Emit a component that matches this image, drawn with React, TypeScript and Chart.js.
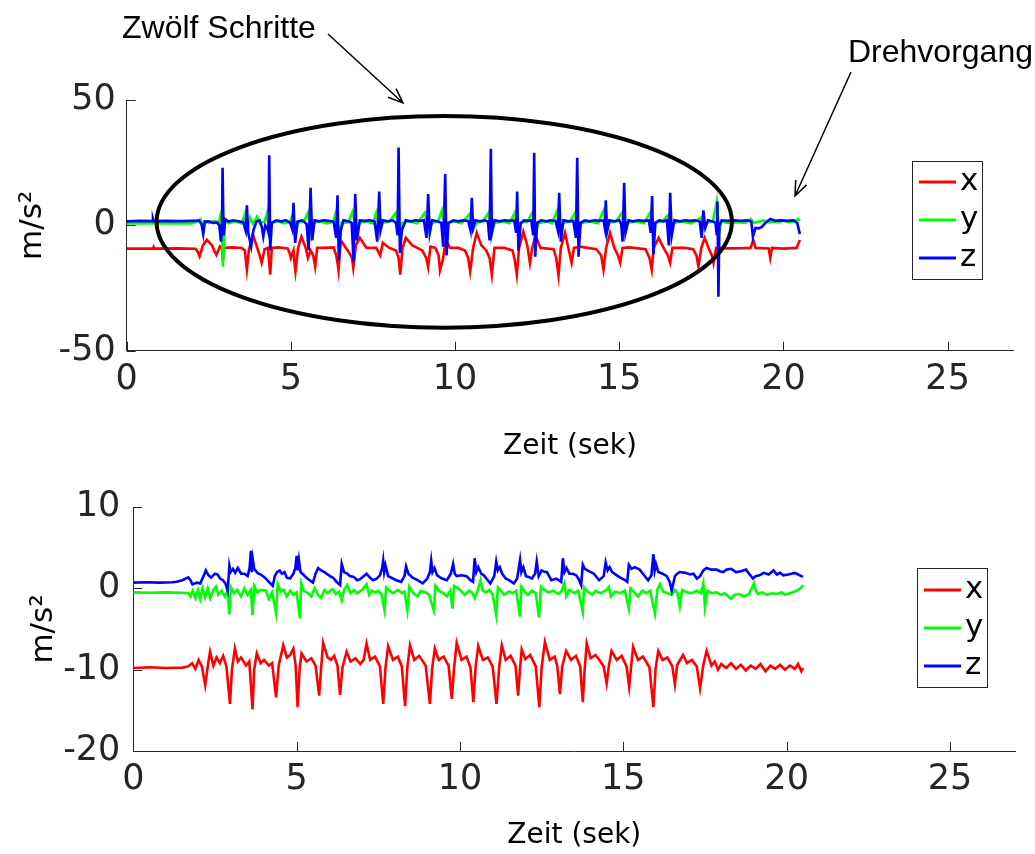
import React, { useEffect, useRef } from 'react';
import { Chart, registerables } from 'chart.js';

Chart.register(...registerables);

// ---------- data ----------
const xTicks = [0, 5, 10, 15, 20, 25];
const topYTicks = [-50, 0, 50];
const bottomYTicks = [-20, -10, 0, 10];
const seriesNames = ['x', 'y', 'z'];
const seriesColors = ['#ff0000', '#00ff00', '#0000ff'];
const xAxisTitle = 'Zeit (sek)';
const yAxisTitle = 'm/s²';
const annotationLabels = ['Zwölf Schritte', 'Drehvorgang'];

// top plot: raw acceleration [time (s), value (m/s²)]
const topX: number[][] = [
  [0, -9.3], [0.8, -9.2], [0.82, -8.6], [0.84, -9.3], [1.6, -9.2], [2.1, -9.3], [2.16, -10.5], [2.22, -12.4], [2.32, -8], [2.44, -5.8],
  [2.6, -8], [2.68, -10.5], [2.73, -11.8], [2.84, -8.4], [2.9, -9], [2.93, -14], [2.97, -9], [3.2, -8.8], [3.5, -9], [3.6, -10],
  [3.63, -14], [3.66, -17.7], [3.72, -10], [3.84, -3.5], [3.95, -8], [4.05, -12], [4.11, -15], [4.2, -9.5], [4.3, -9], [4.34, -15],
  [4.37, -19.7], [4.42, -9], [4.6, -8.8], [4.9, -9.2], [4.96, -11], [5.0, -13], [5.08, -10], [5.11, -15], [5.14, -18.4], [5.22, -9],
  [5.32, -4.5], [5.45, -9], [5.52, -13], [5.6, -10], [5.68, -12], [5.74, -16.5], [5.8, -9], [6.0, -9], [6.3, -8.8], [6.38, -12],
  [6.42, -15], [6.45, -18], [6.52, -6], [6.65, -8.5], [6.78, -11], [6.86, -13], [6.9, -17], [6.98, -8], [7.1, -5], [7.3, -9],
  [7.6, -9], [7.72, -12], [7.8, -7], [8.0, -9], [8.2, -10], [8.28, -13], [8.33, -19.7], [8.4, -9], [8.5, -5], [8.7, -8],
  [9.0, -10], [9.12, -13], [9.18, -16.7], [9.25, -8.5], [9.4, -9], [9.5, -12], [9.54, -18], [9.63, -13.6], [9.72, -6], [9.85, -9],
  [10.1, -9], [10.3, -10], [10.4, -13], [10.46, -18.4], [10.55, -9], [10.66, -3], [10.8, -8], [10.95, -10], [11.05, -13], [11.12, -19.7],
  [11.2, -9], [11.5, -9], [11.75, -10], [11.82, -14], [11.88, -19.7], [11.95, -9], [12.08, -2.5], [12.2, -8], [12.28, -15], [12.35, -9],
  [12.45, -4], [12.6, -9], [13.0, -9.5], [13.08, -13], [13.15, -20], [13.22, -9], [13.35, -3], [13.45, -9], [13.55, -15], [13.62, -9],
  [13.8, -8.5], [14.3, -9.5], [14.45, -12], [14.52, -17.7], [14.6, -9], [14.72, -3], [14.85, -9], [14.96, -12], [15.03, -15], [15.1, -9],
  [15.3, -8.8], [15.8, -9.5], [15.92, -13], [15.99, -17.7], [16.05, -9], [16.2, -5], [16.35, -9], [16.48, -12], [16.55, -15], [16.62, -9],
  [17.0, -9], [17.25, -9.5], [17.35, -12], [17.41, -16.4], [17.5, -9], [17.6, -5], [17.72, -9], [17.82, -12], [17.87, -15], [17.95, -9],
  [18.3, -9.2], [18.8, -9.1], [19.0, -9], [19.08, -5.8], [19.15, -9], [19.55, -9.2], [19.6, -13], [19.65, -9], [20.0, -9.3], [20.4, -9],
  [20.5, -5.8],
];

const topY: number[][] = [
  [0, 0.8], [0.5, 0.9], [1.0, 0.8], [1.5, 0.9], [2.0, 0.8], [2.25, 2.5], [2.3, -0.5], [2.36, 1.5], [2.5, 1.0], [2.65, 1.8],
  [2.8, 1.0], [2.86, 4.0], [2.9, -2.0], [2.93, -16.5], [2.96, -8], [2.99, 2.0], [3.1, 0.8], [3.3, 1.5], [3.5, 0.8], [3.6, 4.5],
  [3.67, -2.0], [3.76, 3.0], [3.85, 0.5], [3.97, 3.5], [4.05, 0.8], [4.2, 1.5], [4.28, 5.0], [4.34, -3.0], [4.4, 1.0], [4.6, 1.5],
  [4.8, 0.8], [4.98, 1.5], [5.05, 4.0], [5.15, -3.0], [5.22, 1.0], [5.4, 1.5], [5.52, 5.0], [5.62, -4.0], [5.7, 1.0], [5.9, 1.5],
  [6.1, 0.8], [6.3, 1.5], [6.36, 4.5], [6.45, -3.0], [6.55, 1.0], [6.75, 1.2], [6.88, 5.5], [7.0, -3.0], [7.1, 1.0], [7.3, 1.5],
  [7.5, 0.8], [7.6, 5.0], [7.7, -2.0], [7.8, 1.0], [8.0, 1.5], [8.2, 5.0], [8.3, -3.0], [8.4, 1.0], [8.6, 1.5], [8.85, 0.8],
  [9.08, 5.0], [9.2, -2.0], [9.3, 1.0], [9.48, 1.5], [9.6, 6.0], [9.72, -3.0], [9.8, 1.0], [10.0, 1.5], [10.2, 0.8], [10.44, 4.5],
  [10.55, -2.0], [10.65, 1.0], [10.85, 1.5], [11.02, 5.0], [11.12, -3.0], [11.2, 1.0], [11.45, 1.5], [11.65, 0.8], [11.82, 5.0], [11.92, -3.0],
  [12.0, 1.0], [12.2, 1.5], [12.35, 5.0], [12.45, -3.0], [12.55, 1.0], [12.8, 1.5], [12.95, 0.8], [13.1, 5.5], [13.2, -2.0], [13.3, 1.0],
  [13.5, 1.5], [13.66, 5.0], [13.76, -3.0], [13.85, 1.0], [14.1, 1.5], [14.35, 0.8], [14.53, 6.0], [14.62, -2.0], [14.7, 1.0], [14.9, 1.5],
  [15.08, 5.0], [15.17, -2.0], [15.25, 1.0], [15.5, 1.5], [15.75, 0.8], [15.94, 5.0], [16.03, -3.0], [16.1, 1.0], [16.3, 1.5], [16.48, 4.0],
  [16.58, -2.0], [16.65, 1.0], [16.9, 1.5], [17.2, 0.8], [17.48, 3.0], [17.58, -1.0], [17.65, 1.0], [17.85, 1.5], [17.97, 9.5], [18.04, -3.0],
  [18.1, 1.5], [18.3, 1.0], [18.6, 1.3], [18.85, 1.0], [19.0, 2.5], [19.1, 1.0], [19.25, 1.5], [19.4, 2.0], [19.55, 1.2], [19.7, 1.5],
  [19.85, 1.2], [20.0, 2.0], [20.15, 1.3], [20.3, 1.5], [20.45, 2.5], [20.5, 1.8],
];

const topZ: number[][] = [
  [0, 1.6], [0.4, 1.8], [0.78, 1.7], [0.8, 2.6], [0.82, 1.7], [1.2, 1.8], [1.6, 1.7], [2.0, 1.8], [2.2, 1.9], [2.28, 0.5],
  [2.33, -3.5], [2.38, 1.5], [2.5, 1.6], [2.62, 1.0], [2.75, 1.2], [2.82, 0.0], [2.87, -6.5], [2.9, -2.0], [2.92, 23], [2.95, -4],
  [3.0, 2.5], [3.1, 1.5], [3.25, 2.0], [3.4, 1.6], [3.55, 1.2], [3.62, -2.0], [3.66, 8.0], [3.7, -3.0], [3.79, -8.5], [3.86, -2.0],
  [3.95, 1.5], [4.05, 2.0], [4.12, -1.0], [4.16, -4.5], [4.22, 0.0], [4.29, -1.5], [4.32, -3.0], [4.34, 28], [4.37, -10], [4.42, 1.0],
  [4.55, 2.0], [4.7, 1.6], [4.85, 2.0], [4.98, 1.0], [5.04, -1.5], [5.08, 9.0], [5.13, -7.0], [5.2, 1.5], [5.35, 2.0], [5.48, 0.5],
  [5.54, -10], [5.6, 15], [5.65, -6.0], [5.72, 2.0], [5.85, 1.6], [6.0, 2.0], [6.15, 1.8], [6.3, 1.5], [6.38, -5.0], [6.42, 12],
  [6.46, -14], [6.52, -2.0], [6.6, 2.0], [6.75, 1.6], [6.85, 1.0], [6.91, -14.5], [6.96, 12.5], [7.01, -6.0], [7.1, 2.0], [7.25, 1.8],
  [7.4, 2.0], [7.55, 1.5], [7.63, -6.5], [7.69, 13.5], [7.73, -2.0], [7.8, 2.0], [7.95, 1.6], [8.1, 2.0], [8.2, 1.0], [8.25, -4.0],
  [8.28, 31], [8.32, -11], [8.38, -2.0], [8.5, 2.0], [8.65, 1.6], [8.8, 2.0], [8.95, 1.8], [9.05, 2.0], [9.13, -5.0], [9.18, 12.5],
  [9.23, -3.0], [9.3, 2.0], [9.45, 1.6], [9.58, 1.0], [9.64, -8.5], [9.7, 20.5], [9.74, -12], [9.8, 1.0], [9.95, 2.0], [10.1, 1.6],
  [10.25, 2.0], [10.4, 1.8], [10.47, -2.0], [10.51, 11], [10.55, -1.0], [10.62, 2.0], [10.75, 1.6], [10.9, 2.0], [11.0, 1.5], [11.05, -6.0],
  [11.09, 30.5], [11.12, -3.0], [11.2, 2.0], [11.35, 1.6], [11.5, 2.0], [11.65, 1.8], [11.8, 2.0], [11.86, -3.0], [11.89, 13.5], [11.93, -10],
  [12.0, 1.0], [12.1, 2.0], [12.22, 1.8], [12.32, 2.0], [12.38, -4.0], [12.41, 29], [12.44, -12.5], [12.5, 1.0], [12.62, 2.0], [12.78, 1.6],
  [12.92, 2.0], [13.06, 1.8], [13.13, -2.0], [13.17, 13], [13.22, -6.5], [13.3, 2.0], [13.45, 1.6], [13.6, 1.8], [13.68, -5.0], [13.72, 27],
  [13.76, -12.5], [13.82, 1.0], [13.95, 2.0], [14.1, 1.6], [14.25, 2.0], [14.4, 1.8], [14.52, 2.0], [14.56, -1.0], [14.59, 10], [14.63, -2.5],
  [14.7, 2.0], [14.85, 1.6], [15.0, 2.0], [15.06, 0.5], [15.1, -6.5], [15.15, 17], [15.19, -3.0], [15.28, 2.0], [15.42, 1.6], [15.58, 2.0],
  [15.74, 1.8], [15.9, 2.0], [15.96, -3.0], [16.0, 11.7], [16.04, -11.5], [16.1, 1.0], [16.22, 2.0], [16.35, 1.6], [16.45, 2.0], [16.51, -8.0],
  [16.55, 13], [16.6, -4.0], [16.68, 2.0], [16.85, 1.6], [17.0, 2.0], [17.15, 1.8], [17.3, 2.0], [17.45, 1.5], [17.51, -5.0], [17.56, 6.0],
  [17.62, -1.0], [17.7, 2.0], [17.85, 1.5], [17.93, 1.0], [17.97, -4.0], [17.99, 9.5], [18.02, -28.5], [18.05, 0.0], [18.12, 2.0], [18.3, 1.8],
  [18.5, 2.0], [18.7, 1.8], [18.9, 2.0], [19.02, 1.5], [19.07, -4.5], [19.15, -1.0], [19.25, -1.2], [19.35, -0.5], [19.45, 1.0], [19.6, 2.5],
  [19.75, 1.8], [19.9, 2.0], [20.1, 1.8], [20.3, 2.0], [20.42, 1.0], [20.5, -3.5],
];

// bottom plot: filtered acceleration [time (s), value (m/s²)]
const bottomX: number[][] = [
  [0, -9.8], [0.5, -9.7], [1.0, -9.8], [1.5, -9.75], [1.68, -9.6], [1.8, -9.2], [1.9, -9.9], [2.0, -8.8], [2.1, -9.6], [2.2, -11.9],
  [2.3, -9], [2.35, -7.8], [2.45, -9.5], [2.55, -8.5], [2.65, -9.2], [2.75, -8.3], [2.85, -9.6], [2.96, -14.2], [3.02, -10], [3.11, -7.4],
  [3.2, -9], [3.3, -8.5], [3.45, -9.5], [3.55, -9], [3.65, -14.9], [3.7, -10], [3.78, -8], [3.9, -9.2], [4.0, -8.8], [4.15, -9.5],
  [4.25, -9.2], [4.37, -13.4], [4.45, -9.5], [4.59, -7], [4.7, -8.5], [4.8, -8.2], [4.9, -7.4], [4.97, -9.5], [5.03, -14.6], [5.09, -10],
  [5.15, -8], [5.3, -9], [5.45, -8.6], [5.58, -9.5], [5.69, -13.2], [5.75, -9.8], [5.81, -6.7], [5.95, -8.5], [6.05, -8.8], [6.15, -8.3],
  [6.25, -9.5], [6.33, -13.1], [6.4, -9.8], [6.53, -7.8], [6.65, -9], [6.8, -8.6], [6.95, -9.3], [7.05, -8.8], [7.14, -6.8], [7.25, -8.8],
  [7.4, -8.4], [7.55, -9.6], [7.65, -14.2], [7.72, -9.8], [7.8, -7.1], [7.95, -8.8], [8.1, -8.4], [8.22, -9.6], [8.32, -14.5], [8.39, -9.7],
  [8.47, -7], [8.6, -8.8], [8.75, -8.3], [8.95, -9.5], [9.08, -14.2], [9.15, -9.8], [9.23, -7.4], [9.35, -8.8], [9.5, -8.4], [9.65, -9.5],
  [9.75, -13.6], [9.82, -9.8], [9.9, -6.7], [10.05, -8.8], [10.2, -8.4], [10.32, -9.7], [10.41, -14], [10.48, -9.6], [10.56, -7.1], [10.7, -8.8],
  [10.85, -8.5], [11.0, -9.6], [11.12, -14.2], [11.2, -9.7], [11.28, -7], [11.4, -8.8], [11.55, -8.3], [11.7, -9.5], [11.78, -13.2], [11.84, -9.8],
  [11.89, -7.5], [12.0, -8.7], [12.15, -8.2], [12.32, -9.6], [12.43, -14.6], [12.5, -9.7], [12.6, -6.6], [12.75, -8.8], [12.9, -8.4], [12.98, -9.6],
  [13.06, -13], [13.13, -9.6], [13.25, -7.7], [13.4, -8.8], [13.55, -8.3], [13.68, -9.6], [13.76, -14], [13.82, -9.8], [13.88, -6.8], [14.0, -8.6],
  [14.15, -8.2], [14.3, -9], [14.4, -9.6], [14.49, -11.7], [14.56, -9.5], [14.64, -7.7], [14.8, -8.8], [14.95, -8.3], [15.1, -9.6], [15.18, -12.1],
  [15.24, -9.6], [15.3, -7.2], [15.45, -8.8], [15.6, -8.4], [15.8, -9.7], [15.92, -14.6], [15.99, -9.8], [16.07, -7.7], [16.2, -8.8], [16.35, -8.5],
  [16.5, -9.6], [16.58, -11.8], [16.65, -9.4], [16.83, -8.2], [16.95, -9.2], [17.1, -8.8], [17.25, -9.6], [17.35, -12.3], [17.45, -9.4], [17.55, -7.7],
  [17.7, -9.5], [17.8, -9.0], [17.9, -10], [18.0, -9.3], [18.15, -9.8], [18.3, -9.2], [18.45, -9.9], [18.6, -9.4], [18.75, -10.1], [18.9, -9.5],
  [19.05, -9.9], [19.2, -9.3], [19.35, -10.2], [19.5, -9.5], [19.65, -9.9], [19.8, -9.4], [19.95, -10], [20.1, -9.5], [20.25, -9.9], [20.35, -9.3],
  [20.45, -10.2], [20.5, -9.8],
];

const bottomY: number[][] = [
  [0, -0.5], [0.5, -0.55], [1.0, -0.5], [1.5, -0.55], [1.68, -0.6], [1.75, -1.0], [1.82, -0.3], [1.9, -1.2], [1.98, -0.2], [2.05, -1.3],
  [2.12, 0.0], [2.2, -1.1], [2.28, 0.0], [2.36, -1.2], [2.45, -0.2], [2.53, 0.2], [2.6, -0.8], [2.7, -0.3], [2.8, -1.0], [2.88, -0.4],
  [2.94, -3.2], [2.99, 0.1], [3.08, -0.6], [3.18, -0.2], [3.3, -1.0], [3.4, 0.0], [3.5, -0.8], [3.6, -0.2], [3.65, -3.3], [3.7, 0.3],
  [3.8, -0.5], [3.9, -0.2], [4.06, -0.3], [4.15, -1.3], [4.25, -0.5], [4.37, -3.0], [4.42, 0.5], [4.52, -0.4], [4.6, -0.2], [4.7, -1.0],
  [4.8, -0.3], [4.9, -0.8], [5.0, -0.5], [5.1, -3.7], [5.14, 0.6], [5.22, -0.3], [5.35, -0.6], [5.45, -1.0], [5.55, 0.0], [5.65, -0.8],
  [5.75, -1.2], [5.85, -0.2], [5.95, -0.6], [6.1, -0.1], [6.2, -0.7], [6.3, -0.4], [6.38, -1.5], [6.45, -0.2], [6.55, 0.4], [6.65, -0.6],
  [6.75, -0.2], [6.85, -0.6], [7.0, -0.2], [7.14, 0.5], [7.22, -0.8], [7.3, -0.3], [7.4, -0.5], [7.5, -0.3], [7.6, -0.8], [7.69, -2.7],
  [7.74, 0.1], [7.85, -0.3], [7.95, -0.6], [8.1, -0.2], [8.22, -0.6], [8.3, -0.4], [8.39, -2.7], [8.45, 0.2], [8.55, -0.5], [8.7, -1.0],
  [8.8, -0.3], [8.95, -0.5], [9.05, -0.8], [9.2, -2.7], [9.25, 0.3], [9.35, -0.3], [9.5, -0.6], [9.6, -1.0], [9.7, -0.3], [9.77, -2.5],
  [9.82, 0.3], [9.95, 0.0], [10.05, -0.4], [10.15, -0.8], [10.28, -0.3], [10.38, -0.6], [10.45, -1.2], [10.55, -0.2], [10.63, 1.0], [10.7, -0.3],
  [10.8, -0.5], [10.9, -0.2], [11.0, -0.8], [11.11, -3.3], [11.16, 0.1], [11.25, -0.3], [11.35, -0.8], [11.5, -0.4], [11.62, -0.6], [11.72, -0.3],
  [11.84, -3.5], [11.88, 0.2], [11.98, -0.4], [12.08, -0.8], [12.2, -0.3], [12.32, -0.6], [12.42, -3.6], [12.48, 0.2], [12.58, -0.2], [12.7, -0.5],
  [12.85, -0.3], [13.0, -0.7], [13.1, -0.4], [13.2, 0.6], [13.25, -1.0], [13.35, -0.2], [13.5, -0.6], [13.62, -0.3], [13.76, -2.9], [13.8, 0.1],
  [13.9, -0.4], [14.05, -0.8], [14.15, -0.3], [14.3, -0.6], [14.45, -0.3], [14.56, 0.2], [14.62, -1.0], [14.75, -0.4], [14.9, -0.6], [15.05, -0.3],
  [15.17, -2.5], [15.22, 0.0], [15.32, -0.4], [15.45, -1.0], [15.58, -0.3], [15.7, -0.6], [15.82, -0.3], [15.97, -3.1], [16.04, -0.2], [16.12, 0.5],
  [16.22, -0.4], [16.35, -0.6], [16.48, -0.8], [16.58, -0.2], [16.66, -0.6], [16.73, -2.2], [16.8, -0.2], [16.95, -0.5], [17.1, -0.6], [17.25, -0.3],
  [17.38, -0.6], [17.45, 0.6], [17.5, -2.3], [17.58, -0.3], [17.7, -0.6], [17.86, -0.5], [17.98, -0.8], [18.1, -0.6], [18.22, -1.0], [18.3, -1.3],
  [18.4, -0.8], [18.55, -0.7], [18.7, -1.0], [18.85, -0.7], [19.0, 0.6], [19.05, -0.2], [19.12, -0.7], [19.25, -0.5], [19.4, -0.8], [19.55, -0.6],
  [19.7, -0.7], [19.85, -0.5], [19.95, -0.8], [20.1, -0.6], [20.25, -0.4], [20.35, -0.2], [20.45, 0.1], [20.5, 0.4],
];

const bottomZ: number[][] = [
  [0, 0.7], [0.4, 0.75], [0.8, 0.7], [1.2, 0.75], [1.33, 0.8], [1.5, 1.0], [1.68, 1.35], [1.75, 1.0], [1.81, 0.5], [1.95, 0.7],
  [2.05, 0.6], [2.15, 1.5], [2.22, 2.2], [2.3, 1.6], [2.38, 1.3], [2.5, 1.8], [2.58, 1.7], [2.66, 1.2], [2.74, 1.0], [2.82, 0.6],
  [2.89, -0.3], [2.94, 2.8], [2.98, 2.0], [3.05, 2.4], [3.12, 1.9], [3.2, 2.5], [3.3, 1.8], [3.4, 1.8], [3.5, 1.5], [3.56, 2.5],
  [3.6, 4.6], [3.63, 2.0], [3.66, 3.5], [3.7, 2.4], [3.8, 1.9], [3.9, 1.7], [4.0, 1.4], [4.06, 1.2], [4.15, 0.8], [4.27, 0.3],
  [4.33, 1.5], [4.4, 2.0], [4.48, 2.2], [4.55, 1.8], [4.63, 2.0], [4.7, 1.3], [4.8, 1.2], [4.9, 1.8], [4.96, 2.5], [5.0, 4.0],
  [5.03, 2.2], [5.07, 3.5], [5.12, 2.0], [5.2, 1.7], [5.3, 1.3], [5.4, 1.0], [5.5, 0.7], [5.58, 1.8], [5.66, 2.5], [5.75, 2.2],
  [5.85, 2.0], [5.92, 1.8], [6.02, 1.5], [6.12, 1.3], [6.22, 0.8], [6.33, 0.4], [6.38, 3.0], [6.45, 2.0], [6.55, 1.8], [6.63, 1.5],
  [6.75, 1.4], [6.85, 1.0], [6.93, 1.1], [7.05, 1.5], [7.14, 1.8], [7.25, 1.3], [7.34, 1.0], [7.45, 1.2], [7.55, 1.6], [7.62, 2.5],
  [7.65, 3.4], [7.68, 2.0], [7.72, 2.8], [7.8, 1.5], [7.9, 1.3], [8.05, 1.0], [8.2, 0.8], [8.3, 1.5], [8.35, 2.7], [8.42, 1.8],
  [8.55, 1.3], [8.7, 1.0], [8.86, 0.6], [9.0, 1.2], [9.08, 2.0], [9.12, 3.4], [9.16, 2.0], [9.22, 2.5], [9.3, 1.6], [9.45, 1.2],
  [9.6, 1.0], [9.72, 1.8], [9.79, 3.0], [9.84, 1.8], [9.9, 1.5], [10.05, 1.6], [10.2, 1.5], [10.32, 1.0], [10.4, 0.8], [10.45, 3.7],
  [10.5, 2.0], [10.56, 2.6], [10.65, 1.8], [10.73, 1.6], [10.85, 1.0], [10.93, 0.6], [11.05, 1.5], [11.11, 3.3], [11.16, 2.2], [11.22, 2.6],
  [11.29, 1.8], [11.4, 1.2], [11.5, 1.0], [11.65, 0.6], [11.75, 1.2], [11.84, 3.5], [11.88, 2.0], [11.94, 2.6], [12.02, 1.5], [12.1, 1.4],
  [12.2, 1.2], [12.3, 1.8], [12.35, 3.3], [12.41, 1.5], [12.5, 2.2], [12.6, 2.0], [12.66, 2.0], [12.8, 1.0], [12.95, 1.2], [13.1, 0.8],
  [13.15, 3.7], [13.2, 2.0], [13.26, 2.5], [13.35, 1.8], [13.45, 1.8], [13.56, 1.6], [13.65, 1.0], [13.71, 0.4], [13.76, 2.9], [13.82, 2.4],
  [13.9, 2.2], [14.0, 2.0], [14.1, 1.8], [14.26, 1.0], [14.4, 1.5], [14.46, 3.2], [14.52, 2.2], [14.58, 2.6], [14.66, 2.0], [14.8, 1.6],
  [14.92, 1.3], [15.05, 1.0], [15.12, 0.8], [15.17, 2.9], [15.25, 2.4], [15.35, 2.6], [15.5, 2.3], [15.6, 1.8], [15.76, 1.0], [15.86, 1.6],
  [15.92, 4.2], [15.96, 2.2], [16.0, 3.0], [16.07, 2.0], [16.2, 1.8], [16.33, 1.5], [16.42, 0.8], [16.48, -0.3], [16.58, 1.5], [16.65, 1.8],
  [16.73, 2.0], [16.9, 1.9], [17.05, 1.7], [17.15, 1.8], [17.25, 1.2], [17.35, 1.5], [17.45, 2.2], [17.55, 2.5], [17.7, 2.3], [17.86, 2.3],
  [17.95, 2.1], [18.06, 2.0], [18.15, 2.3], [18.3, 2.4], [18.45, 2.0], [18.6, 2.1], [18.76, 2.3], [18.85, 1.8], [18.97, 1.2], [19.05, 1.5],
  [19.17, 1.6], [19.3, 1.9], [19.45, 1.7], [19.6, 2.2], [19.7, 1.7], [19.8, 1.9], [19.9, 1.6], [20.05, 1.7], [20.15, 1.8], [20.25, 1.9],
  [20.35, 1.7], [20.45, 1.5], [20.5, 1.4],
];

// ellipse annotation in data units: center (t, value), radii (t, value)
const ellipseCenter = [9.67, 1.4];
const ellipseRadii = [8.76, 42.2];

// ---------- styles / layout ----------
const AXIS = '#262626';
const TICK_FONT = "'DejaVu Sans', sans-serif";
const ANNOT_FONT = "'Liberation Sans', Arial, sans-serif";
const W = 1035;
const TOP_H = 470;
const BOT_H = 384;

type LegendLayout = { box: [number, number, number, number]; lineX: [number, number]; textX: number; rowsY: number[] };

const inwardTicks = {
  id: 'inwardTicks',
  afterDraw(chart: any) {
    const { ctx, chartArea } = chart;
    const xs = chart.scales.x;
    const ys = chart.scales.y;
    ctx.save();
    ctx.strokeStyle = AXIS;
    ctx.lineWidth = 1;
    ctx.beginPath();
    xs.ticks.forEach((t: any) => {
      const px = Math.round(xs.getPixelForValue(t.value)) + 0.5;
      ctx.moveTo(px, chartArea.bottom);
      ctx.lineTo(px, chartArea.bottom - 9);
    });
    ys.ticks.forEach((t: any) => {
      const py = Math.round(ys.getPixelForValue(t.value)) + 0.5;
      ctx.moveTo(chartArea.left, py);
      ctx.lineTo(chartArea.left + 9, py);
    });
    ctx.stroke();
    ctx.restore();
  },
};

function makeLegend(layout: LegendLayout) {
  return {
    id: 'boxLegend',
    afterDraw(chart: any) {
      const { ctx } = chart;
      const [x0, y0, x1, y1] = layout.box;
      ctx.save();
      ctx.fillStyle = '#ffffff';
      ctx.fillRect(x0, y0, x1 - x0, y1 - y0);
      ctx.strokeStyle = AXIS;
      ctx.lineWidth = 1;
      ctx.strokeRect(x0 + 0.5, y0 + 0.5, x1 - x0, y1 - y0);
      chart.data.datasets.forEach((ds: any, i: number) => {
        const y = layout.rowsY[i];
        ctx.strokeStyle = ds.borderColor;
        ctx.lineWidth = 3;
        ctx.beginPath();
        ctx.moveTo(layout.lineX[0], y);
        ctx.lineTo(layout.lineX[1], y);
        ctx.stroke();
        ctx.fillStyle = '#000';
        ctx.font = `31px ${TICK_FONT}`;
        ctx.textBaseline = 'middle';
        ctx.textAlign = 'left';
        ctx.fillText(ds.label, layout.textX, y);
      });
      ctx.restore();
    },
  };
}

function drawArrow(ctx: CanvasRenderingContext2D, x0: number, y0: number, x1: number, y1: number) {
  const a = Math.atan2(y1 - y0, x1 - x0);
  const L = 16;
  const s = 0.38;
  ctx.beginPath();
  ctx.moveTo(x0, y0);
  ctx.lineTo(x1, y1);
  ctx.moveTo(x1 - L * Math.cos(a - s), y1 - L * Math.sin(a - s));
  ctx.lineTo(x1, y1);
  ctx.lineTo(x1 - L * Math.cos(a + s), y1 - L * Math.sin(a + s));
  ctx.stroke();
}

const topAnnotations = {
  id: 'topAnnotations',
  afterDraw(chart: any) {
    const { ctx } = chart;
    const xs = chart.scales.x;
    const ys = chart.scales.y;
    const cx = xs.getPixelForValue(ellipseCenter[0]);
    const cy = ys.getPixelForValue(ellipseCenter[1]);
    const rx = xs.getPixelForValue(ellipseCenter[0] + ellipseRadii[0]) - cx;
    const ry = cy - ys.getPixelForValue(ellipseCenter[1] + ellipseRadii[1]);
    ctx.save();
    ctx.strokeStyle = '#000';
    ctx.lineWidth = 4;
    ctx.beginPath();
    ctx.ellipse(cx, cy, rx, ry, 0, 0, Math.PI * 2);
    ctx.stroke();
    ctx.fillStyle = '#000';
    ctx.font = `32px ${ANNOT_FONT}`;
    ctx.textAlign = 'left';
    ctx.textBaseline = 'alphabetic';
    ctx.fillText(annotationLabels[0], 122, 38);
    ctx.fillText(annotationLabels[1], 848, 62);
    ctx.lineWidth = 1.5;
    drawArrow(ctx, 328, 34, 403, 103);
    drawArrow(ctx, 851, 72, 795, 196);
    ctx.restore();
  },
};

type PlotCfg = {
  series: number[][][];
  yMin: number;
  yMax: number;
  yTicks: number[];
  padding: { left: number; right: number; top: number; bottom: number };
  yScaleWidth: number;
  xScaleHeight: number;
  yTickPad: number;
  xTickPad: number;
  plugins: any[];
};

function buildChart(canvas: HTMLCanvasElement, cfg: PlotCfg) {
  return new Chart(canvas, {
    type: 'line',
    data: {
      datasets: cfg.series.map((s, i) => ({
        label: seriesNames[i],
        data: s.map(([x, y]) => ({ x, y })),
        borderColor: seriesColors[i],
        backgroundColor: seriesColors[i],
        borderWidth: 2.6,
        pointRadius: 0,
        tension: 0,
        fill: false,
        order: 3 - i,
      })),
    },
    options: {
      responsive: false,
      maintainAspectRatio: false,
      animation: false,
      devicePixelRatio: 1,
      events: [],
      layout: { padding: cfg.padding },
      plugins: { legend: { display: false }, tooltip: { enabled: false } },
      scales: {
        x: {
          type: 'linear',
          min: 0,
          max: 27,
          afterBuildTicks: (s: any) => {
            s.ticks = xTicks.map((v) => ({ value: v }));
          },
          afterFit: (s: any) => {
            s.height = cfg.xScaleHeight;
          },
          ticks: { color: AXIS, font: { family: TICK_FONT, size: 35 }, padding: cfg.xTickPad, maxRotation: 0, autoSkip: false },
          grid: { drawOnChartArea: false, drawTicks: false },
          border: { color: AXIS, width: 1 },
          title: { display: true, text: xAxisTitle, color: '#000', font: { family: TICK_FONT, size: 28 }, padding: 0 },
        },
        y: {
          type: 'linear',
          min: cfg.yMin,
          max: cfg.yMax,
          afterBuildTicks: (s: any) => {
            s.ticks = cfg.yTicks.map((v) => ({ value: v }));
          },
          afterFit: (s: any) => {
            s.width = cfg.yScaleWidth;
          },
          ticks: { color: AXIS, font: { family: TICK_FONT, size: 35 }, padding: cfg.yTickPad, autoSkip: false },
          grid: { drawOnChartArea: false, drawTicks: false },
          border: { color: AXIS, width: 1 },
          title: { display: true, text: yAxisTitle, color: '#000', font: { family: TICK_FONT, size: 31 }, padding: 0 },
        },
      },
    } as any,
    plugins: cfg.plugins,
  });
}

export default function App() {
  const topRef = useRef<HTMLCanvasElement>(null);
  const botRef = useRef<HTMLCanvasElement>(null);

  useEffect(() => {
    if (!topRef.current || !botRef.current) return;
    const top = buildChart(topRef.current, {
      series: [topX, topY, topZ],
      yMin: -50,
      yMax: 50,
      yTicks: topYTicks,
      padding: { left: 14.4, right: 21.7, top: 100, bottom: 6.2 },
      yScaleWidth: 112.3,
      xScaleHeight: 113.1,
      yTickPad: 11,
      xTickPad: 8,
      plugins: [
        inwardTicks,
        makeLegend({ box: [912, 161, 982, 279], lineX: [919, 956], textX: 960, rowsY: [182, 220, 258] }),
        topAnnotations,
      ],
    });
    const bottom = buildChart(botRef.current, {
      series: [bottomX, bottomY, bottomZ],
      yMin: -20,
      yMax: 10,
      yTicks: bottomYTicks,
      padding: { left: 25.4, right: 19.7, top: 37, bottom: 1.2 },
      yScaleWidth: 107.9,
      xScaleHeight: 101.8,
      yTickPad: 13,
      xTickPad: 8,
      plugins: [
        inwardTicks,
        makeLegend({ box: [917, 98, 987, 217], lineX: [924, 961], textX: 965, rowsY: [120, 158, 196] }),
      ],
    });
    return () => {
      top.destroy();
      bottom.destroy();
    };
  }, []);

  return (
    <div style={{ position: 'absolute', left: 0, top: 0, width: W, height: TOP_H + BOT_H, background: '#fff' }}>
      <canvas ref={topRef} width={W} height={TOP_H} style={{ position: 'absolute', left: 0, top: 0, display: 'block' }} />
      <canvas ref={botRef} width={W} height={BOT_H} style={{ position: 'absolute', left: 0, top: TOP_H, display: 'block' }} />
    </div>
  );
}
